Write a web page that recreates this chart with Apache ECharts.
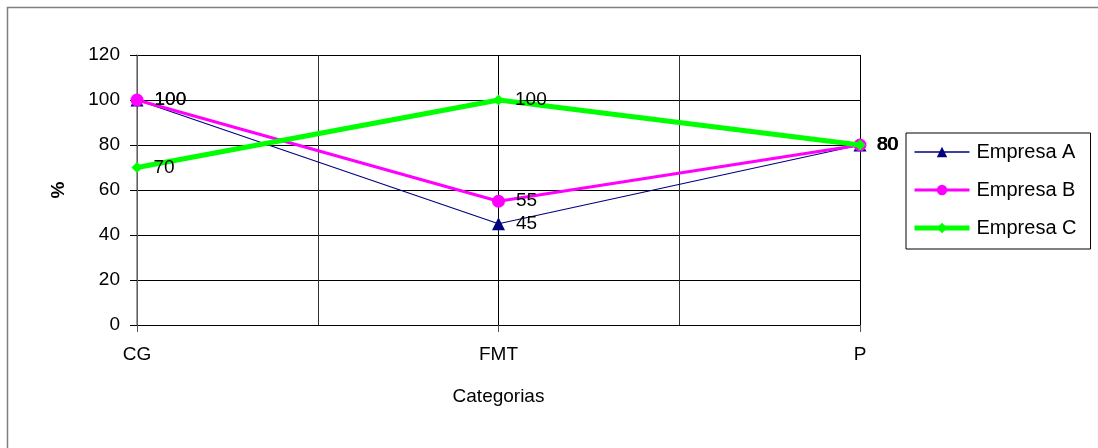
<!DOCTYPE html>
<html>
<head>
<meta charset="utf-8">
<script src="https://cdn.jsdelivr.net/npm/echarts@6/dist/echarts.min.js"></script>
<style>
html,body{margin:0;padding:0;background:#fff;}
#chart{width:1098px;height:448px;}
</style>
</head>
<body>
<div id="chart"></div>
<script>
var categories = ['CG', 'FMT', 'P'];
var empresaA = [100, 45, 80];
var empresaB = [100, 55, 80];
var empresaC = [70, 100, 80];
var yTicks = [0, 20, 40, 60, 80, 100, 120];

function toPoints(arr) { return arr.map(function (v, i) { return [i, v]; }); }

var font = 'Liberation Sans, Arial, sans-serif';
var chart = echarts.init(document.getElementById('chart'));
var labelCfg = { show: true, position: 'right', distance: 11, color: '#000', fontSize: 19, fontFamily: font };

chart.setOption({
  animation: false,
  backgroundColor: '#fff',
  textStyle: { fontFamily: font },
  graphic: [{
    type: 'rect', left: 5, top: 5,
    shape: { width: 1110, height: 460 },
    style: { fill: 'none', stroke: '#808080', lineWidth: 1.5 }
  }],
  grid: { left: 137, right: 238, top: 55, bottom: 123 },
  legend: {
    orient: 'vertical', left: 906, top: 133,
    data: [
      { name: 'Empresa A', lineStyle: { width: 1.5 } },
      { name: 'Empresa B', lineStyle: { width: 3 } },
      { name: 'Empresa C', lineStyle: { width: 5 } }
    ],
    itemWidth: 55, itemHeight: 13, itemGap: 18,
    padding: [9, 14, 11, 6],
    borderColor: '#000', borderWidth: 1,
    textStyle: { fontSize: 20, color: '#000', fontFamily: font, padding: [0, 0, 0, 2] }
  },
  xAxis: {
    type: 'value', min: 0, max: categories.length - 1, interval: 1,
    name: 'Categorias', nameLocation: 'middle', nameGap: 62,
    nameTextStyle: { fontSize: 19, color: '#000', fontFamily: font },
    axisLine: { show: true, lineStyle: { color: '#000', width: 1 } },
    axisTick: { show: true, length: 7, lineStyle: { color: '#555' } },
    minorTick: { show: false, splitNumber: 2 },
    axisLabel: {
      margin: 20, fontSize: 19, color: '#000', fontFamily: font,
      formatter: function (v) { return categories[Math.round(v)]; }
    },
    splitLine: { show: true, lineStyle: { color: '#000', width: 1 } },
    minorSplitLine: { show: true, lineStyle: { color: '#333', width: 1 } }
  },
  yAxis: {
    type: 'value', min: yTicks[0], max: yTicks[yTicks.length - 1], interval: 20,
    name: '%', nameLocation: 'middle', nameGap: 69,
    nameTextStyle: { fontSize: 19, fontWeight: 'bold', color: '#000', fontFamily: font },
    axisLine: { show: true, lineStyle: { color: '#808080', width: 1.5 } },
    axisTick: { show: true, length: 7, lineStyle: { color: '#000' } },
    axisLabel: { margin: 17, fontSize: 19, color: '#000', fontFamily: font },
    splitLine: { show: true, lineStyle: { color: '#000', width: 1 } }
  },
  series: [
    {
      name: 'Empresa A', type: 'line', data: toPoints(empresaA),
      symbol: 'triangle', symbolSize: 13,
      lineStyle: { color: '#000080', width: 1.2 },
      itemStyle: { color: '#000080' },
      label: labelCfg, z: 2
    },
    {
      name: 'Empresa B', type: 'line', data: toPoints(empresaB),
      symbol: 'circle', symbolSize: 13,
      lineStyle: { color: '#FF00FF', width: 3 },
      itemStyle: { color: '#FF00FF' },
      label: labelCfg, z: 3
    },
    {
      name: 'Empresa C', type: 'line', data: toPoints(empresaC),
      symbol: 'diamond', symbolSize: 11,
      lineStyle: { color: '#00FF00', width: 5 },
      itemStyle: { color: '#00FF00' },
      label: labelCfg, z: 4
    }
  ]
});
</script>
</body>
</html>
